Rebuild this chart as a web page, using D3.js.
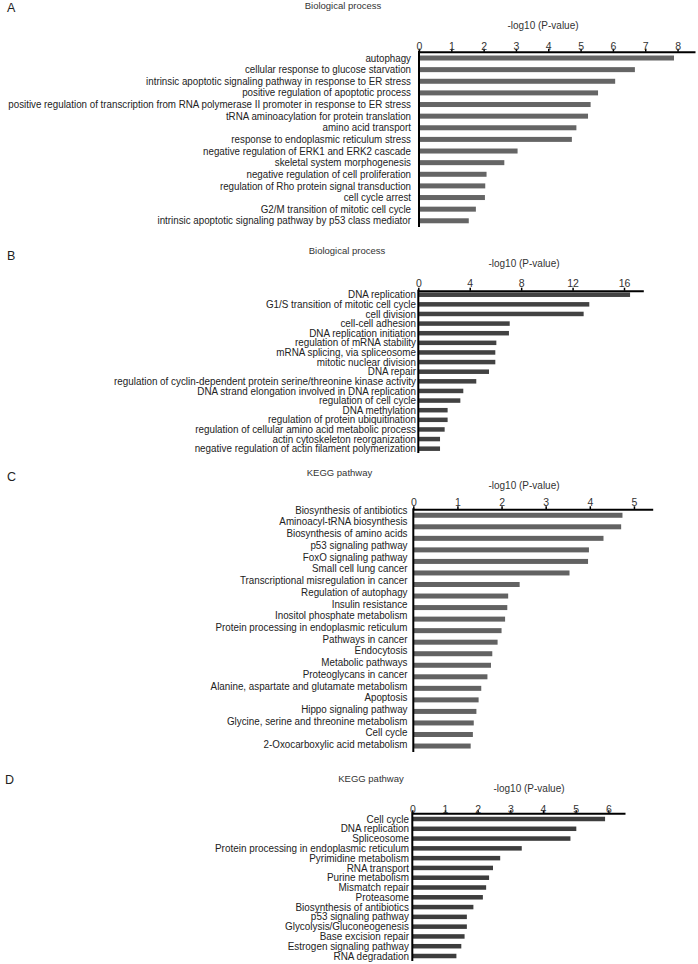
<!DOCTYPE html>
<html><head><meta charset="utf-8">
<script src="https://cdn.jsdelivr.net/npm/d3@7/dist/d3.min.js"></script>
<style>body{margin:0;background:#fff}svg{display:block}text{font-family:"Liberation Sans",Arial,sans-serif}</style>
</head><body>
<svg id="chart" width="698" height="964"></svg>
<script>
// ---------- Data ----------
const catsA = ["autophagy","cellular response to glucose starvation","intrinsic apoptotic signaling pathway in response to ER stress","positive regulation of apoptotic process","positive regulation of transcription from RNA polymerase II promoter in response to ER stress","tRNA aminoacylation for protein translation","amino acid transport","response to endoplasmic reticulum stress","negative regulation of ERK1 and ERK2 cascade","skeletal system morphogenesis","negative regulation of cell proliferation","regulation of Rho protein signal transduction","cell cycle arrest","G2/M transition of mitotic cell cycle","intrinsic apoptotic signaling pathway by p53 class mediator"];
const valsA = [7.89,6.68,6.07,5.54,5.31,5.23,4.87,4.73,3.05,2.64,2.09,2.05,2.04,1.76,1.54];
const ticksA = [0,1,2,3,4,5,6,7,8];

const catsB = ["DNA replication","G1/S transition of mitotic cell cycle","cell division","cell-cell adhesion","DNA replication initiation","regulation of mRNA stability","mRNA splicing, via spliceosome","mitotic nuclear division","DNA repair","regulation of cyclin-dependent protein serine/threonine kinase activity","DNA strand elongation involved in DNA replication","regulation of cell cycle","DNA methylation","regulation of protein ubiquitination","regulation of cellular amino acid metabolic process","actin cytoskeleton reorganization","negative regulation of actin filament polymerization"];
const valsB = [16.47,13.30,12.86,7.11,7.05,6.07,5.99,5.99,5.50,4.51,3.50,3.27,2.28,2.28,2.05,1.69,1.69];
const ticksB = [0,4,8,12,16];

const catsC = ["Biosynthesis of antibiotics","Aminoacyl-tRNA biosynthesis","Biosynthesis of amino acids","p53 signaling pathway","FoxO signaling pathway","Small cell lung cancer","Transcriptional misregulation in cancer","Regulation of autophagy","Insulin resistance","Inositol phosphate metabolism","Protein processing in endoplasmic reticulum","Pathways in cancer","Endocytosis","Metabolic pathways","Proteoglycans in cancer","Alanine, aspartate and glutamate metabolism","Apoptosis","Hippo signaling pathway","Glycine, serine and threonine metabolism","Cell cycle","2-Oxocarboxylic acid metabolism"];
const valsC = [4.74,4.71,4.31,3.98,3.96,3.54,2.41,2.15,2.13,2.08,2.00,1.91,1.79,1.76,1.68,1.54,1.48,1.43,1.37,1.35,1.30];
const ticksC = [0,1,2,3,4,5];

const catsD = ["Cell cycle","DNA replication","Spliceosome","Protein processing in endoplasmic reticulum","Pyrimidine metabolism","RNA transport","Purine metabolism","Mismatch repair","Proteasome","Biosynthesis of antibiotics","p53 signaling pathway","Glycolysis/Gluconeogenesis","Base excision repair","Estrogen signaling pathway","RNA degradation"];
const valsD = [5.90,5.02,4.84,3.35,2.69,2.47,2.35,2.26,2.16,1.87,1.67,1.67,1.60,1.50,1.35];
const ticksD = [0,1,2,3,4,5,6];

const panelLetters = ["A","B","C","D"];
const panelTitles = ["Biological process","Biological process","KEGG pathway","KEGG pathway"];
const axisTitle = "-log10 (P-value)";

// ---------- Layout ----------
const panels = [
  {cats:catsA, vals:valsA, ticks:ticksA, x0:419, x1:695, xmax:8.54, axisY:51.7, y0:52.2, y1:226.6,
   ly0:52.2, ly1:226.6, labelX:411, labelW:403, fs:10.3, barH:5, color:"#656565",
   letter:[7,11.5], title:[343,8.5], atitle:[543,28.5], tickY:46.5, yEnd:227},
  {cats:catsB, vals:valsB, ticks:ticksB, x0:418.3, x1:643.3, xmax:17.5, axisY:290.7, y0:289.9, y1:453.5,
   ly0:289.9, ly1:453.5, labelX:416, labelW:302, fs:10.3, barH:4.5, color:"#424242",
   letter:[7,259.5], title:[347,254], atitle:[524,267], tickY:283.5, yEnd:453},
  {cats:catsC, vals:valsC, ticks:ticksC, x0:413.3, x1:652.7, xmax:5.425, axisY:509.3, y0:509.5, y1:751.8,
   ly0:504.1, ly1:750.2, labelX:407.5, labelW:197, fs:10.8, barH:5, color:"#626262",
   letter:[7,480.5], title:[339.5,476], atitle:[524,488.5], tickY:502.5, yEnd:752},
  {cats:catsD, vals:valsD, ticks:ticksD, x0:412.3, x1:625, xmax:6.51, axisY:813.3, y0:814.1, y1:960.9,
   ly0:814.1, ly1:960.9, labelX:409, labelW:194, fs:10.3, barH:4.5, color:"#3d3d3d",
   letter:[5,783.5], title:[371,781.5], atitle:[529,791.5], tickY:809.5, yEnd:961}
];

const svg = d3.select("#chart");

panels.forEach((p, i) => {
  const g = svg.append("g");
  const x = d3.scaleLinear().domain([0, p.xmax]).range([p.x0, p.x1]);
  const y = d3.scalePoint().domain(p.cats).range([p.y0, p.y1]).padding(0.5);
  const yl = d3.scalePoint().domain(p.cats).range([p.ly0, p.ly1]).padding(0.5);

  // panel letter
  g.append("text").attr("x", p.letter[0]).attr("y", p.letter[1])
    .attr("font-size", 12.5).attr("fill", "#222").text(panelLetters[i]);
  // panel title
  g.append("text").attr("x", p.title[0]).attr("y", p.title[1]).attr("text-anchor", "middle")
    .attr("font-size", 9.5).attr("fill", "#333").text(panelTitles[i]);
  // axis title
  g.append("text").attr("x", p.atitle[0]).attr("y", p.atitle[1]).attr("text-anchor", "middle")
    .attr("font-size", 10).attr("fill", "#333").text(axisTitle);

  // bars
  g.selectAll("rect.bar").data(p.cats).join("rect").attr("class","bar")
    .attr("x", x(0)).attr("y", d => y(d) - p.barH/2)
    .attr("width", (d, j) => x(p.vals[j]) - x(0))
    .attr("height", p.barH).attr("fill", p.color);

  // top axis
  const ax = d3.axisTop(x).tickValues(p.ticks).tickSize(3).tickSizeOuter(0).tickFormat(d3.format("d"));
  const axg = g.append("g").attr("transform", `translate(0,${p.axisY})`).call(ax);
  axg.select(".domain").attr("stroke", "#000").attr("stroke-width", 2);
  axg.selectAll(".tick line").attr("stroke", "#000").attr("stroke-width", 1.5);
  axg.selectAll(".tick text").attr("font-size", 10.5).attr("fill", "#333")
    .attr("font-family", "'Liberation Sans',Arial,sans-serif")
    .attr("y", p.tickY - p.axisY + 3.5).attr("dy", null);

  // left axis line
  g.append("line").attr("x1", x(0)).attr("x2", x(0)).attr("y1", p.axisY - 1).attr("y2", p.yEnd)
    .attr("stroke", "#000").attr("stroke-width", 2);

  // category labels
  const lab = g.append("g");
  const texts = lab.selectAll("text").data(p.cats).join("text")
    .attr("text-anchor", "end").attr("font-size", p.fs).attr("fill", "#222")
    .attr("dy", "0.35em").text(d => d);
  let maxW = 0;
  texts.each(function(){ maxW = Math.max(maxW, this.getComputedTextLength()); });
  const k = Math.min(1, p.labelW / maxW);
  texts.attr("transform", d => `translate(${p.labelX},${yl(d)}) scale(${k},1)`);
});
</script>
</body></html>
